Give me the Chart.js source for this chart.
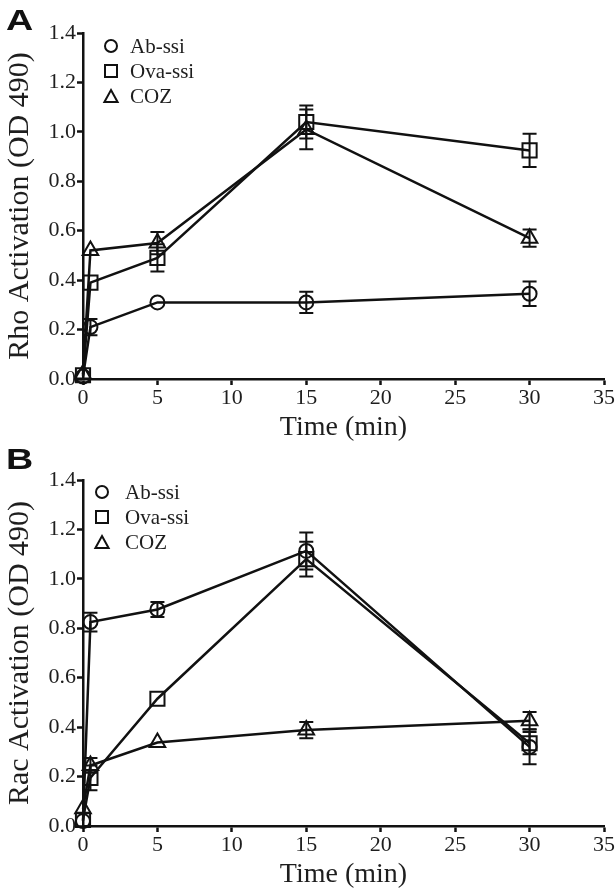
<!DOCTYPE html>
<html>
<head>
<meta charset="utf-8">
<script src="https://cdn.jsdelivr.net/npm/chart.js@4.4.0/dist/chart.umd.min.js"></script>
<style>
  html, body { margin: 0; padding: 0; background: #fff; }
  .panel { position: relative; width: 616px; height: 447px; }
  .tag {
    position: absolute; left: 6px;
    font: bold 29px "Liberation Sans", Arial, sans-serif; line-height: 29px;
    color: #111; transform: scaleX(1.3); transform-origin: left top;
  }
</style>
</head>
<body>
<div class="panel"><canvas id="rhoChart" width="616" height="447"></canvas><div class="tag" style="top:6px">A</div></div>
<div class="panel"><canvas id="racChart" width="616" height="447"></canvas><div class="tag" style="top:-2px">B</div></div>
<script>
// time points (min)
const times = [0, 0.5, 5, 15, 30];
const seriesNames = ['Ab-ssi', 'Ova-ssi', 'COZ'];
const xTicks = [0, 5, 10, 15, 20, 25, 30, 35];
const yTicks = [0, 0.2, 0.4, 0.6, 0.8, 1.0, 1.2, 1.4];

// Panel A - Rho activation
const rhoAb = [0.01, 0.21, 0.31, 0.31, 0.345];
const rhoAbErr = [0.005, 0.033, 0.01, 0.043, 0.05];
const rhoOva = [0.015, 0.39, 0.49, 1.04, 0.925];
const rhoOvaErr = [0.005, 0.015, 0.055, 0.067, 0.067];
const rhoCoz = [0.02, 0.52, 0.55, 1.01, 0.57];
const rhoCozErr = [0.005, 0.01, 0.045, 0.08, 0.035];

// Panel B - Rac activation
const racAb = [0.02, 0.825, 0.876, 1.113, 0.32];
const racAbErr = [0.005, 0.038, 0.03, 0.075, 0.07];
const racOva = [0.025, 0.195, 0.515, 1.08, 0.335];
const racOvaErr = [0.01, 0.05, 0.01, 0.07, 0.045];
const racCoz = [0.07, 0.245, 0.338, 0.388, 0.426];
const racCozErr = [0.01, 0.03, 0.01, 0.033, 0.035];

const INK = '#111';
const TEXT = '#1e1e1e';
const SERIF = '"Liberation Serif", "Times New Roman", serif';
const markerStyles = ['circle', 'rect', 'triangle'];
const markerRadius = [7, 10, 9];

// draws a small hollow marker (legend only)
const drawMarker = (ctx, style, x, y, s) => {
  ctx.beginPath();
  if (style === 'circle') {
    ctx.arc(x, y, s, 0, Math.PI * 2);
  } else if (style === 'rect') {
    ctx.rect(x - s, y - s, 2 * s, 2 * s);
  } else {
    ctx.moveTo(x, y - s);
    ctx.lineTo(x + s * 1.1, y + s);
    ctx.lineTo(x - s * 1.1, y + s);
    ctx.closePath();
  }
  ctx.stroke();
};

const errorBars = {
  id: 'errorBars',
  afterDatasetsDraw(chart) {
    const { ctx, scales: { x, y } } = chart;
    ctx.save();
    ctx.strokeStyle = INK;
    ctx.lineWidth = 2;
    chart.data.datasets.forEach(ds => {
      ds.data.forEach((pt, i) => {
        const e = ds.errors[i];
        const px = x.getPixelForValue(pt.x);
        const top = y.getPixelForValue(pt.y + e);
        const bot = y.getPixelForValue(pt.y - e);
        if ((bot - top) / 2 < 6) return; // hidden behind the marker
        ctx.beginPath();
        ctx.moveTo(px, top); ctx.lineTo(px, bot);
        ctx.moveTo(px - 7, top); ctx.lineTo(px + 7, top);
        ctx.moveTo(px - 7, bot); ctx.lineTo(px + 7, bot);
        ctx.stroke();
      });
    });
    ctx.restore();
  }
};

const panelLegend = {
  id: 'panelLegend',
  afterDraw(chart, args, opts) {
    const ctx = chart.ctx;
    ctx.save();
    ctx.font = '21px ' + SERIF;
    ctx.textBaseline = 'middle';
    ctx.fillStyle = TEXT;
    ctx.strokeStyle = INK;
    ctx.lineWidth = 2;
    seriesNames.forEach((name, i) => {
      const cy = opts.y + i * opts.dy;
      drawMarker(ctx, markerStyles[i], opts.x, cy, 6);
      ctx.fillText(name, opts.textX, cy + 1);
    });
    ctx.restore();
  }
};

const makeChart = (id, yTitle, values, errors, legendPos) => {
  const datasets = values.map((vals, i) => ({
    label: seriesNames[i],
    data: times.map((t, j) => ({ x: t, y: vals[j] })),
    errors: errors[i],
    borderColor: INK,
    borderWidth: 2.5,
    tension: 0,
    pointStyle: markerStyles[i],
    pointRadius: markerRadius[i],
    pointBorderWidth: 2,
    pointBorderColor: INK,
    pointBackgroundColor: 'rgba(255,255,255,0)',
    clip: false
  }));

  const axisGrid = {
    drawOnChartArea: false,
    drawTicks: true,
    tickLength: 6,
    tickWidth: 2.5,
    tickColor: INK
  };
  const axisBorder = { display: true, color: INK, width: 2.5 };
  const tickFont = { family: SERIF, size: 22 };

  return new Chart(document.getElementById(id), {
    type: 'line',
    data: { datasets },
    options: {
      responsive: false,
      animation: false,
      layout: { padding: { top: 33, right: 8, left: 0, bottom: 0 } },
      plugins: {
        legend: { display: false },
        tooltip: { enabled: false },
        panelLegend: legendPos
      },
      scales: {
        x: {
          type: 'linear',
          min: 0,
          max: 35,
          grid: axisGrid,
          border: axisBorder,
          afterBuildTicks: s => { s.ticks = xTicks.map(v => ({ value: v })); },
          afterFit: s => { s.height = 68; s.paddingLeft = 0; s.paddingRight = 0; },
          ticks: { color: TEXT, font: tickFont, padding: 0, maxRotation: 0, callback: v => String(v) },
          title: { display: true, text: 'Time (min)', color: TEXT, font: { family: SERIF, size: 28 }, padding: { top: 0, bottom: 3 } }
        },
        y: {
          min: 0,
          max: 1.4,
          grid: axisGrid,
          border: axisBorder,
          afterBuildTicks: s => { s.ticks = yTicks.map(v => ({ value: v })); },
          afterFit: s => { s.width = 83; s.paddingTop = 0; s.paddingBottom = 0; },
          ticks: { color: TEXT, font: tickFont, padding: 1, callback: v => v.toFixed(1) },
          title: { display: true, text: yTitle, color: TEXT, font: { family: SERIF, size: 30 }, padding: { top: 2, bottom: 0 } }
        }
      }
    },
    plugins: [errorBars, panelLegend]
  });
};

makeChart('rhoChart', 'Rho Activation (OD 490)',
  [rhoAb, rhoOva, rhoCoz], [rhoAbErr, rhoOvaErr, rhoCozErr],
  { x: 111, y: 46, dy: 25, textX: 130 });

makeChart('racChart', 'Rac Activation (OD 490)',
  [racAb, racOva, racCoz], [racAbErr, racOvaErr, racCozErr],
  { x: 102, y: 45, dy: 25, textX: 125 });
</script>
</body>
</html>
